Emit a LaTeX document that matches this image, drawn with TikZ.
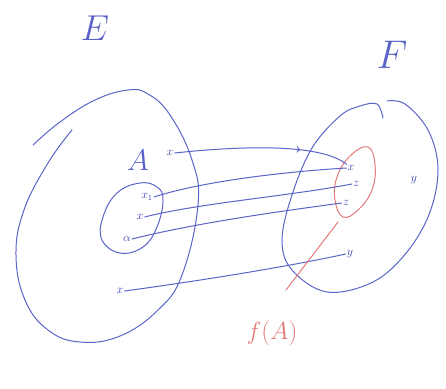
\documentclass[tikz,border=0pt]{standalone}
\usepackage{fix-cm}
\usetikzlibrary{decorations.markings}
\definecolor{penblue}{RGB}{90,100,200}
\definecolor{inkblue}{RGB}{55,65,180}
\definecolor{penred}{RGB}{226,122,122}
\tikzset{
  pen/.style={draw=penblue, line width=1pt, line cap=round, line join=round},
  redpen/.style={draw=penred, line width=1pt, line cap=round},
  pt/.style={text=inkblue, inner sep=1pt, font=\fontsize{12}{12}\selectfont},
  setlabel/.style={text=penblue, inner sep=0pt},
  midarrow/.style={
    decoration={
      markings,
      mark=at position 0.72 with {\arrow[scale=1.2]{>}}
    },
    postaction={decorate}
  }
}

\begin{document}
\begin{tikzpicture}[x=1pt, y=-1pt]
    \useasboundingbox (0,0) rectangle (446,388);

    % Set labels
    \node[setlabel, font=\fontsize{36}{36}\selectfont] (Elabel) at (95,28) {$E$};
    \node[setlabel, font=\fontsize{40}{40}\selectfont] (Flabel) at (392,55) {$F$};
    \node[setlabel, font=\fontsize{30}{30}\selectfont] (Alabel) at (138,160) {$A$};
    \node[setlabel, text=penred, font=\fontsize{25}{25}\selectfont] (fAlabel) at (272,333) {$f(A)$};

    % Outlines of E, A, F and f(A)
    \draw[pen] plot[smooth, tension=0.7] coordinates {(72,130) (48,163) (24,210) (16,255) (25,300) (48,330) (80,342) (120,336) (158,310) (182,275) (198,205) (192,160) (170,115) (148,94) (128,90) (95,100) (60,122) (33,145)};
    \draw[pen] plot[smooth cycle, tension=0.7] coordinates {(117,193) (140,183) (157,187) (163,200) (157,227) (143,247) (120,253) (102,240) (103,217)};
    \draw[pen] plot[smooth, tension=0.6] coordinates {(383,118) (377,104) (360,106) (340,116) (312,148) (292,195) (282,240) (292,270) (327,292) (373,282) (407,252) (430,212) (438,168) (428,130) (405,104) (387,101)};
    \draw[redpen] plot[smooth cycle, tension=0.7] coordinates {(350,156) (368,147) (375,165) (372,190) (358,210) (343,217) (335,200) (337,177)};

    % Points of E
    \node[pt] (a)  at (170,153) {$x$};
    \node[pt] (x1) at (147,197) {$x_1$};
    \node[pt] (x2) at (140,217) {$x$};
    \node[pt] (x3) at (127,239) {$\alpha$};
    \node[pt] (b)  at (120,291) {$x$};

    % Points of F
    \node[pt] (fa) at (351,168) {$x$};
    \node[pt] (fb) at (356,184) {$z$};
    \node[pt] (fc) at (346,203) {$z$};
    \node[pt] (fd) at (414,180) {$y$};
    \node[pt] (fe) at (350,254) {$y$};

    % Images
    \draw[pen, midarrow] (a.east) .. controls (240,146) and (320,143) .. (fa.north west);
    \draw[pen] (x1.east) .. controls (200,182) and (280,172) .. (fa.west);
    \draw[pen] (x2.east) .. controls (200,203) and (290,196) .. (fb.west);
    \draw[pen] (x3.east) .. controls (200,222) and (290,210) .. (fc.west);
    \draw[pen] (b.east) .. controls (220,278) and (300,264) .. (fe.west);

    % f(A) pointer
    \coordinate (fAtip) at (338,222);
    \coordinate (fAend) at (286,290);
    \draw[redpen] (fAtip) -- (fAend);
\end{tikzpicture}
\end{document}
